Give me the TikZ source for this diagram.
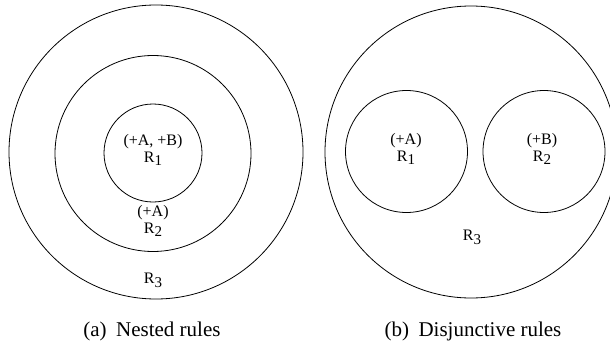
\documentclass[tikz,border=0pt]{standalone}
\usepackage{fontspec}
\setmainfont{Liberation Serif}
\newcommand{\rsub}[2]{#1\raisebox{-0.5ex}{\fontsize{15}{15}\selectfont #2}}

\begin{document}
\begin{tikzpicture}[x=1pt,y=-1pt,
    ring/.style={draw,circle,inner sep=0pt,line width=0.8pt},
    lbl/.style={align=center,font=\fontsize{16}{17}\selectfont,inner sep=0pt},
    capt/.style={font=\fontsize{21}{22}\selectfont,inner sep=0pt}]
  \useasboundingbox (0,0) rectangle (610,345);
  % (a) nested
  \node[ring,minimum size=294pt] at (156,152) (outerA) {};
  \node[ring,minimum size=196pt] at (153,153.5) (midA) {};
  \node[ring,minimum size=98pt] at (153,153) (innerA) {};
  \node[lbl] at (153,150) (r1A) {(+A, +B)\\\rsub{R}{1}};
  \node[lbl] at (153,221) (r2A) {(+A)\\\rsub{R}{2}};
  \node[lbl] at (153,280) (r3A) {\rsub{R}{3}};
  % (b) disjunctive
  \node[ring,minimum size=292pt] at (471,152) (outerB) {};
  \node[ring,minimum size=122pt] at (406.5,151.5) (leftB) {};
  \node[ring,minimum size=122pt] at (544,151.5) (rightB) {};
  \node[lbl] at (406,149) (r1B) {(+A)\\\rsub{R}{1}};
  \node[lbl] at (542,149) (r2B) {(+B)\\\rsub{R}{2}};
  \node[lbl] at (472,237) (r3B) {\rsub{R}{3}};
  % captions
  \node[capt] at (152,331) (captA) {(a)\hspace{0.45em}Nested rules};
  \node[capt] at (473,331) (captB) {(b)\hspace{0.45em}Disjunctive rules};
\end{tikzpicture}
\end{document}
